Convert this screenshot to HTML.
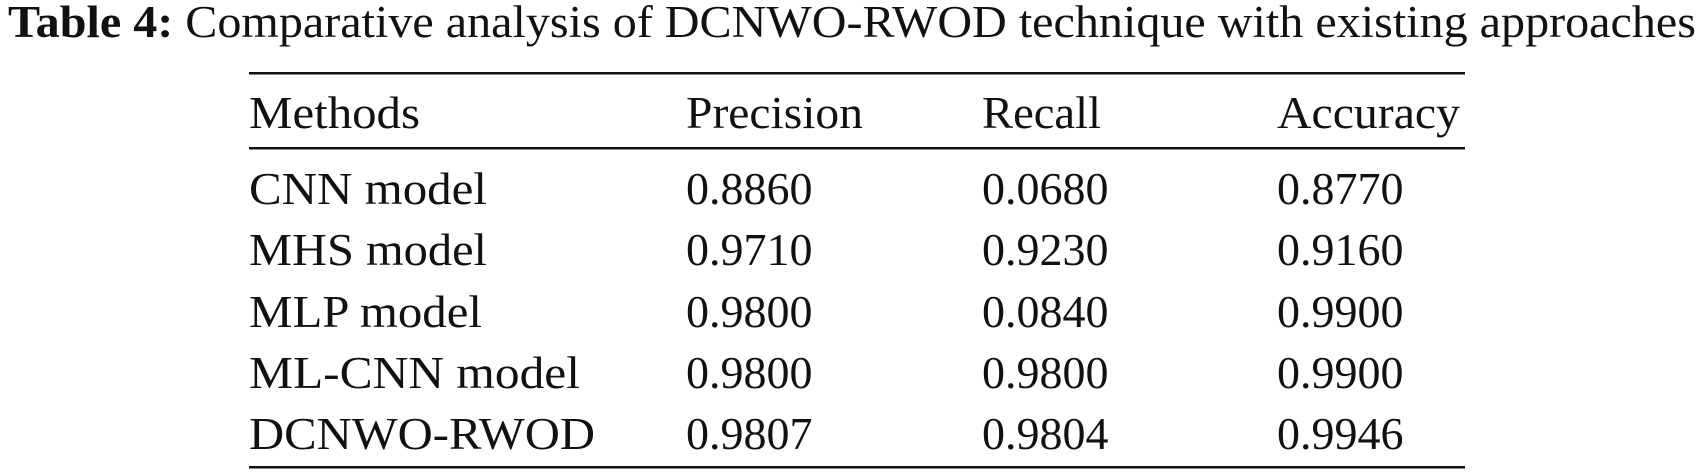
<!DOCTYPE html>
<html><head><meta charset="utf-8"><style>
html,body{margin:0;padding:0;background:#fff;}
svg{display:block;}
text{font-family:"Liberation Serif",serif;fill:#111;}
</style></head><body>
<svg width="1700" height="475" viewBox="0 0 1700 475" xmlns="http://www.w3.org/2000/svg">
<text x="8" y="37" font-size="45" textLength="1688" lengthAdjust="spacingAndGlyphs"><tspan font-weight="bold">Table 4:</tspan>  Comparative analysis of DCNWO-RWOD technique with existing approaches</text>
<rect x="249" y="72" width="1216" height="2.5" fill="#111"/>
<rect x="249" y="147" width="1216" height="2.5" fill="#111"/>
<rect x="249" y="466" width="1216" height="2.5" fill="#111"/>
<g font-size="46">
<text x="249" y="128" textLength="171" lengthAdjust="spacingAndGlyphs">Methods</text><text x="686" y="128" textLength="177" lengthAdjust="spacingAndGlyphs">Precision</text><text x="982" y="128" textLength="119" lengthAdjust="spacingAndGlyphs">Recall</text><text x="1277" y="128" textLength="183" lengthAdjust="spacingAndGlyphs">Accuracy</text>
<text x="249" y="204" textLength="238" lengthAdjust="spacingAndGlyphs">CNN model</text><text x="686" y="204">0.8860</text><text x="982" y="204">0.0680</text><text x="1277" y="204">0.8770</text>
<text x="249" y="265" textLength="238" lengthAdjust="spacingAndGlyphs">MHS model</text><text x="686" y="265">0.9710</text><text x="982" y="265">0.9230</text><text x="1277" y="265">0.9160</text>
<text x="249" y="327" textLength="233" lengthAdjust="spacingAndGlyphs">MLP model</text><text x="686" y="327">0.9800</text><text x="982" y="327">0.0840</text><text x="1277" y="327">0.9900</text>
<text x="249" y="388" textLength="331" lengthAdjust="spacingAndGlyphs">ML-CNN model</text><text x="686" y="388">0.9800</text><text x="982" y="388">0.9800</text><text x="1277" y="388">0.9900</text>
<text x="249" y="449" textLength="346" lengthAdjust="spacingAndGlyphs">DCNWO-RWOD</text><text x="686" y="449">0.9807</text><text x="982" y="449">0.9804</text><text x="1277" y="449">0.9946</text>
</g>
</svg>
</body></html>
